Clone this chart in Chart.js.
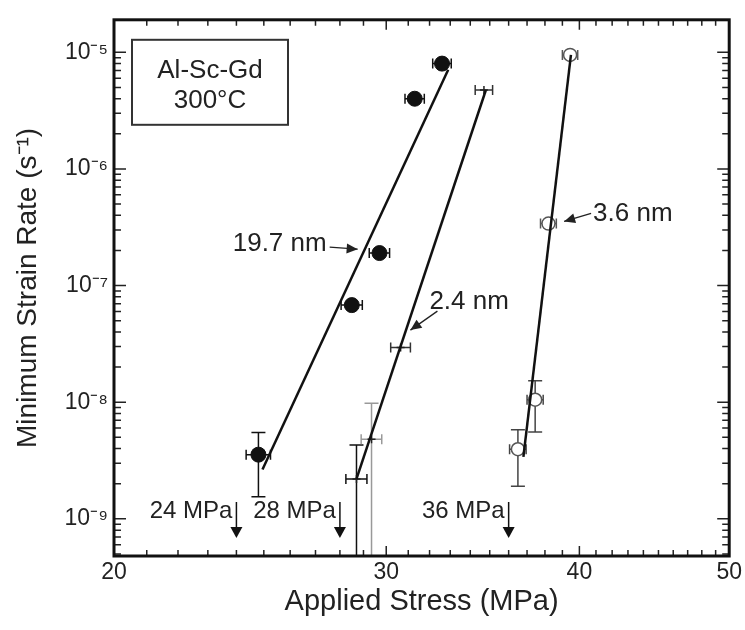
<!DOCTYPE html>
<html>
<head>
<meta charset="utf-8">
<script src="https://cdn.jsdelivr.net/npm/chart.js@4"></script>
<style>
  html, body { margin: 0; padding: 0; background: #fff; }
  #wrap { width: 745px; height: 630px; }
</style>
</head>
<body>
<div id="wrap"><canvas id="myChart" width="745" height="630"></canvas></div>
<script>
// 19.7 nm precipitates (filled circles)
const stress197 = [24.8, 28.5, 29.7, 31.3, 32.6];
const rate197 = [3.55e-9, 6.8e-8, 1.9e-7, 4.0e-6, 8.0e-6];
const rate197Lo = [1.55e-9, null, null, null, null];
const rate197Hi = [5.5e-9, null, null, null, null];
const fit197Stress = [24.95, 32.9];
const fit197Rate = [2.65e-9, 7.1e-6];

// 2.4 nm precipitates (crosses)
const stress24 = [28.7, 29.35, 30.65, 34.7];
const rate24 = [2.2e-9, 4.8e-9, 2.95e-8, 4.75e-6];
const rate24Lo = [1e-10, 1e-10, null, null];
const rate24Hi = [4.3e-9, 9.8e-9, null, null];
const fit24Stress = [28.7, 34.8];
const fit24Rate = [2.2e-9, 4.75e-6];

// 3.6 nm precipitates (open circles)
const stress36 = [36.5, 37.45, 38.2, 39.45];
const rate36 = [3.95e-9, 1.05e-8, 3.4e-7, 9.5e-6];
const rate36Lo = [1.9e-9, 5.55e-9, null, null];
const rate36Hi = [5.8e-9, 1.53e-8, null, null];
const fit36Stress = [36.8, 39.5];
const fit36Rate = [3.4e-9, 9.5e-6];

const stressErr = 0.45;

// threshold stresses
const thresholds = [24, 28, 36];
const thresholdLabels = ['24 MPa', '28 MPa', '36 MPa'];

const xTicks = [20, 30, 40, 50];
const yTicks = [1e-9, 1e-8, 1e-7, 1e-6, 1e-5];

const sup = {'-': '\u207B', '0': '\u2070', '1': '\u00B9', '2': '\u00B2', '3': '\u00B3', '4': '\u2074',
  '5': '\u2075', '6': '\u2076', '7': '\u2077', '8': '\u2078', '9': '\u2079'};
function powLabel(v) {
  const e = Math.round(Math.log10(v));
  return '10' + String(e).split('').map(c => sup[c]).join('');
}

function pts(xs, ys) {
  return xs.map((x, i) => ({x: x, y: ys[i]}));
}

const FONT = "'Liberation Sans', Arial, sans-serif";
const INK = '#222';

const groups = [
  {stress: stress197, rate: rate197, lo: rate197Lo, hi: rate197Hi, color: ['#111', '#111', '#111', '#111', '#111']},
  {stress: stress24, rate: rate24, lo: rate24Lo, hi: rate24Hi, color: ['#111', '#999', '#333', '#333']},
  {stress: stress36, rate: rate36, lo: rate36Lo, hi: rate36Hi, color: ['#444', '#444', '#555', '#555']}
];

const errorBars = {
  id: 'errorBars',
  beforeDatasetsDraw(chart) {
    const {ctx, chartArea: a, scales: {x, y}} = chart;
    ctx.save();
    ctx.beginPath();
    ctx.rect(a.left, a.top, a.right - a.left, a.bottom - a.top);
    ctx.clip();
    ctx.lineWidth = 1.5;
    groups.forEach(g => {
      g.stress.forEach((s, i) => {
        const py = y.getPixelForValue(g.rate[i]);
        const px = x.getPixelForValue(s);
        const x0 = x.getPixelForValue(s - stressErr);
        const x1 = x.getPixelForValue(s + stressErr);
        ctx.strokeStyle = g.color[i];
        ctx.beginPath();
        ctx.moveTo(x0, py); ctx.lineTo(x1, py);
        ctx.moveTo(x0, py - 5); ctx.lineTo(x0, py + 5);
        ctx.moveTo(x1, py - 5); ctx.lineTo(x1, py + 5);
        if (g.hi[i] != null) {
          const yh = y.getPixelForValue(g.hi[i]);
          const yl = y.getPixelForValue(g.lo[i]);
          ctx.moveTo(px, yh); ctx.lineTo(px, yl);
          ctx.moveTo(px - 7, yh); ctx.lineTo(px + 7, yh);
          ctx.moveTo(px - 7, yl); ctx.lineTo(px + 7, yl);
        }
        ctx.stroke();
      });
    });
    ctx.restore();
  }
};

function arrowHead(ctx, fx, fy, tx, ty, len, wid) {
  const ang = Math.atan2(ty - fy, tx - fx);
  ctx.beginPath();
  ctx.moveTo(tx, ty);
  ctx.lineTo(tx - len * Math.cos(ang) + wid * Math.sin(ang), ty - len * Math.sin(ang) - wid * Math.cos(ang));
  ctx.lineTo(tx - len * Math.cos(ang) - wid * Math.sin(ang), ty - len * Math.sin(ang) + wid * Math.cos(ang));
  ctx.closePath();
  ctx.fill();
}

// labels with arrows: tip in data units, tail and text offset in px
const notes = [
  {text: '19.7 nm', tipX: 28.75, tipY: 2.05e-7, tail: [-28, -2], textAt: [-31, -5], align: 'right'},
  {text: '2.4 nm', tipX: 31.1, tipY: 4.15e-8, tail: [27, -19], textAt: [19, -28], align: 'left'},
  {text: '3.6 nm', tipX: 39.1, tipY: 3.55e-7, tail: [27, -8], textAt: [29, -8], align: 'left'}
];

const decorations = {
  id: 'decorations',
  afterDraw(chart) {
    const {ctx, chartArea: a, scales: {x, y}} = chart;
    ctx.save();
    // minor ticks (inward)
    ctx.strokeStyle = '#222';
    ctx.lineWidth = 1.5;
    ctx.beginPath();
    for (let v = 20; v <= 50; v++) {
      const px = x.getPixelForValue(v);
      const len = (v % 10 === 0) ? 10 : 6;
      ctx.moveTo(px, a.bottom); ctx.lineTo(px, a.bottom - len);
      ctx.moveTo(px, a.top); ctx.lineTo(px, a.top + len);
    }
    for (let e = -10; e <= -4; e++) {
      for (let m = 1; m <= 9; m++) {
        const v = m * Math.pow(10, e);
        if (v < y.min || v > y.max) continue;
        const py = y.getPixelForValue(v);
        const len = m === 1 ? 12 : 7;
        ctx.moveTo(a.left, py); ctx.lineTo(a.left + len, py);
        ctx.moveTo(a.right, py); ctx.lineTo(a.right - len, py);
      }
    }
    ctx.stroke();
    // frame
    ctx.lineWidth = 3;
    ctx.strokeStyle = '#111';
    ctx.strokeRect(a.left, a.top, a.right - a.left, a.bottom - a.top);

    // inset box
    ctx.lineWidth = 2;
    ctx.strokeStyle = '#333';
    ctx.strokeRect(a.left + 18, a.top + 20, 156, 85);
    ctx.fillStyle = INK;
    ctx.font = '26px ' + FONT;
    ctx.textAlign = 'center';
    ctx.textBaseline = 'middle';
    ctx.fillText('Al-Sc-Gd', a.left + 96, a.top + 51);
    ctx.fillText('300\u00B0C', a.left + 96, a.top + 81);

    // threshold markers
    ctx.lineWidth = 1.5;
    ctx.strokeStyle = '#111';
    thresholds.forEach((t, i) => {
      const px = x.getPixelForValue(t);
      const tip = a.bottom - 18;
      ctx.fillStyle = '#111';
      ctx.beginPath();
      ctx.moveTo(px, tip); ctx.lineTo(px - 6, tip - 11); ctx.lineTo(px + 6, tip - 11); ctx.closePath();
      ctx.fill();
      ctx.beginPath();
      ctx.moveTo(px, tip - 10); ctx.lineTo(px, tip - 36);
      ctx.stroke();
      ctx.fillStyle = INK;
      ctx.font = '24px ' + FONT;
      ctx.textAlign = 'right';
      ctx.textBaseline = 'middle';
      ctx.fillText(thresholdLabels[i], px - 4, tip - 27);
    });

    // labelled arrows
    notes.forEach(n => {
      const tx = x.getPixelForValue(n.tipX), ty = y.getPixelForValue(n.tipY);
      const fx = tx + n.tail[0], fy = ty + n.tail[1];
      ctx.strokeStyle = '#222';
      ctx.fillStyle = '#222';
      ctx.lineWidth = 1.3;
      ctx.beginPath();
      ctx.moveTo(fx, fy); ctx.lineTo(tx, ty);
      ctx.stroke();
      arrowHead(ctx, fx, fy, tx, ty, 11, 5);
      ctx.fillStyle = INK;
      ctx.font = '26px ' + FONT;
      ctx.textAlign = n.align;
      ctx.textBaseline = 'middle';
      ctx.fillText(n.text, tx + n.textAt[0], ty + n.textAt[1]);
    });
    ctx.restore();
  }
};

const fitStyle = {type: 'line', borderColor: '#111', borderWidth: 2.5, pointRadius: 0, fill: false};

const ctx = document.getElementById('myChart').getContext('2d');
const myChart = new Chart(ctx, {
  type: 'scatter',
  data: {
    datasets: [
      Object.assign({label: 'fit 19.7 nm', data: pts(fit197Stress, fit197Rate)}, fitStyle),
      Object.assign({label: 'fit 2.4 nm', data: pts(fit24Stress, fit24Rate)}, fitStyle),
      Object.assign({label: 'fit 3.6 nm', data: pts(fit36Stress, fit36Rate)}, fitStyle),
      {
        label: '19.7 nm', data: pts(stress197, rate197),
        pointStyle: 'circle', pointRadius: 7.5, backgroundColor: '#111', borderColor: '#111', borderWidth: 1
      },
      {
        label: '2.4 nm', data: pts(stress24, rate24),
        pointStyle: 'cross', pointRadius: 4, backgroundColor: '#222', borderColor: '#222', borderWidth: 1.5
      },
      {
        label: '3.6 nm', data: pts(stress36, rate36),
        pointStyle: 'circle', pointRadius: 6.5, backgroundColor: '#fff', borderColor: '#555', borderWidth: 1.5
      }
    ]
  },
  options: {
    responsive: false,
    animation: false,
    layout: {padding: {left: 0, right: 12, top: 13, bottom: 0}},
    plugins: {legend: {display: false}, tooltip: {enabled: false}},
    scales: {
      x: {
        type: 'logarithmic',
        min: 20, max: 50,
        afterBuildTicks: s => { s.ticks = xTicks.map(v => ({value: v})); },
        afterFit: s => { s.height = 74; },
        grid: {display: false, drawTicks: false},
        border: {display: false},
        ticks: {
          padding: 3, color: INK, font: {family: FONT, size: 23},
          callback: v => String(v), maxRotation: 0, autoSkip: false
        },
        title: {display: true, text: 'Applied Stress (MPa)', color: INK,
          font: {family: FONT, size: 29}, padding: {bottom: 11, top: 0}}
      },
      y: {
        type: 'logarithmic',
        min: 4.8e-10, max: 1.9e-5,
        afterBuildTicks: s => { s.ticks = yTicks.map(v => ({value: v})); },
        afterFit: s => { s.width = 114; },
        grid: {display: false, drawTicks: false},
        border: {display: false},
        ticks: {
          padding: 6, color: INK, font: {family: FONT, size: 23},
          callback: v => powLabel(v), autoSkip: false
        },
        title: {display: true, text: 'Minimum Strain Rate (s\u207B\u00B9)', color: INK,
          font: {family: FONT, size: 28}, padding: {top: 11, bottom: 0}}
      }
    }
  },
  plugins: [errorBars, decorations]
});
</script>
</body>
</html>
